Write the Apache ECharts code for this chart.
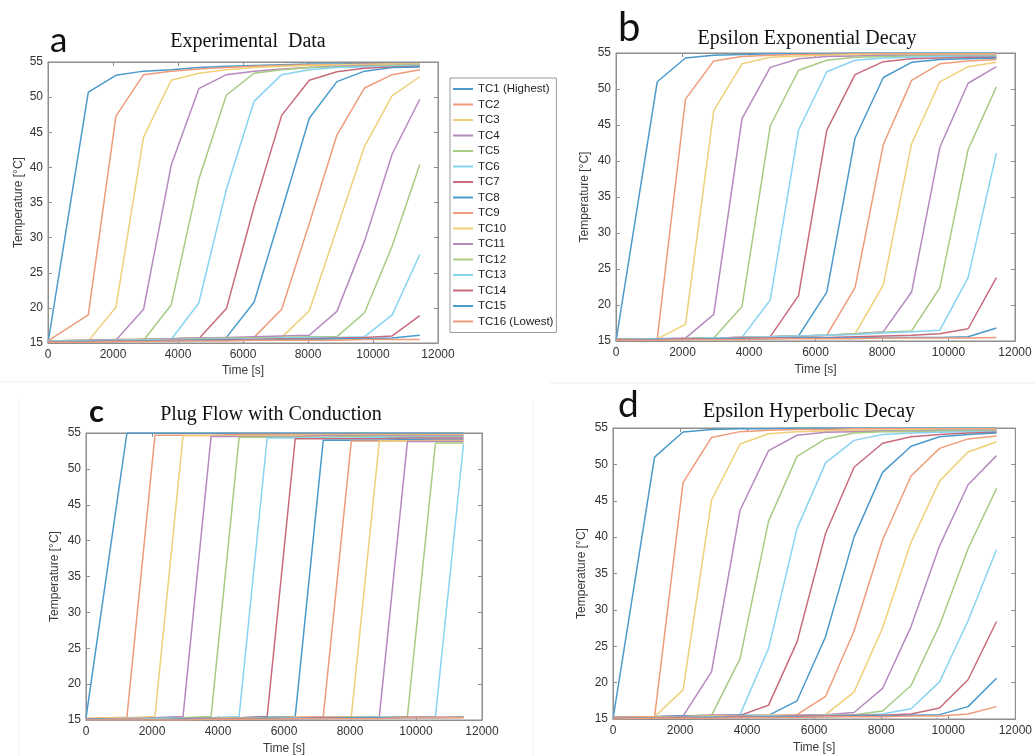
<!DOCTYPE html>
<html>
<head>
<meta charset="utf-8">
<script src="https://cdn.jsdelivr.net/npm/echarts@6/dist/echarts.min.js"></script>
<style>html,body{margin:0;padding:0;background:#fff;}#c{width:1035px;height:756px;}</style>
</head>
<body>
<div id="c"></div>
<script>
// ---- data ----
const times = [0, 1240, 2090, 2940, 3790, 4640, 5490, 6340, 7190, 8040, 8890, 9740, 10590, 11440];
const seriesNames = ['TC1 (Highest)','TC2','TC3','TC4','TC5','TC6','TC7','TC8','TC9','TC10','TC11','TC12','TC13','TC14','TC15','TC16 (Lowest)'];
const panelTitles = ['Experimental  Data', 'Epsilon Exponential Decay', 'Plug Flow with Conduction', 'Epsilon Hyperbolic Decay'];
const panelLetters = ['a', 'b', 'c', 'd'];
const xTicks = [0, 2000, 4000, 6000, 8000, 10000, 12000];
const yTicks = [15, 20, 25, 30, 35, 40, 45, 50, 55];

// a: Experimental Data
const expData = [
  [15.0, 50.7, 53.1, 53.7, 53.9, 54.2, 54.4, 54.5, 54.6, 54.7, 54.7, 54.8, 54.8, 54.8],
  [15.3, 19.0, 47.3, 53.2, 53.7, 54.0, 54.2, 54.4, 54.5, 54.6, 54.6, 54.7, 54.7, 54.7],
  [15.2, 15.3, 20.1, 44.3, 52.4, 53.4, 53.9, 54.2, 54.4, 54.5, 54.6, 54.6, 54.7, 54.7],
  [15.2, 15.3, 15.4, 19.8, 40.3, 51.2, 53.2, 53.7, 54.0, 54.2, 54.4, 54.5, 54.5, 54.6],
  [15.2, 15.3, 15.4, 15.4, 20.4, 38.3, 50.3, 53.4, 53.9, 54.2, 54.3, 54.4, 54.5, 54.6],
  [15.2, 15.3, 15.4, 15.5, 15.5, 20.7, 36.9, 49.4, 53.2, 53.9, 54.2, 54.3, 54.4, 54.5],
  [15.3, 15.3, 15.4, 15.5, 15.5, 15.6, 19.9, 34.4, 47.4, 52.4, 53.6, 54.1, 54.3, 54.4],
  [15.3, 15.4, 15.4, 15.5, 15.6, 15.7, 15.8, 20.8, 33.8, 47.0, 52.2, 53.7, 54.2, 54.3],
  [15.3, 15.4, 15.4, 15.5, 15.6, 15.7, 15.7, 15.8, 19.8, 32.0, 44.6, 51.3, 53.2, 53.9],
  [15.3, 15.4, 15.5, 15.5, 15.6, 15.7, 15.7, 15.8, 15.8, 19.6, 31.3, 43.0, 50.2, 52.9],
  [15.3, 15.4, 15.5, 15.5, 15.6, 15.7, 15.8, 15.9, 16.0, 16.1, 19.5, 29.5, 41.9, 49.7],
  [15.2, 15.3, 15.4, 15.5, 15.5, 15.6, 15.7, 15.7, 15.8, 15.9, 15.9, 19.3, 28.8, 40.4],
  [15.2, 15.3, 15.4, 15.4, 15.5, 15.5, 15.6, 15.6, 15.7, 15.8, 15.8, 15.9, 19.0, 27.6],
  [15.1, 15.2, 15.3, 15.3, 15.4, 15.4, 15.5, 15.5, 15.6, 15.6, 15.7, 15.8, 16.0, 18.9],
  [15.1, 15.2, 15.2, 15.3, 15.3, 15.4, 15.4, 15.4, 15.5, 15.5, 15.6, 15.6, 15.7, 16.1],
  [15.1, 15.1, 15.2, 15.2, 15.3, 15.3, 15.3, 15.4, 15.4, 15.4, 15.4, 15.5, 15.5, 15.5]
];

// b: Epsilon Exponential Decay
const expoData = [
  [15.0, 51.0, 54.3, 54.7, 54.8, 54.9, 54.9, 54.9, 55.0, 55.0, 55.0, 55.0, 55.0, 55.0],
  [15.3, 15.3, 48.6, 53.9, 54.5, 54.7, 54.8, 54.8, 54.9, 54.9, 54.9, 54.9, 54.9, 54.9],
  [15.2, 15.3, 17.3, 47.0, 53.5, 54.4, 54.6, 54.7, 54.8, 54.8, 54.8, 54.8, 54.8, 54.8],
  [15.2, 15.3, 15.4, 18.7, 45.9, 53.0, 54.2, 54.5, 54.6, 54.7, 54.7, 54.7, 54.7, 54.7],
  [15.2, 15.3, 15.3, 15.4, 19.8, 44.9, 52.6, 54.0, 54.4, 54.5, 54.6, 54.6, 54.6, 54.6],
  [15.2, 15.3, 15.3, 15.4, 15.5, 20.7, 44.3, 52.4, 54.0, 54.3, 54.4, 54.5, 54.5, 54.5],
  [15.2, 15.3, 15.3, 15.4, 15.5, 15.6, 21.3, 44.3, 52.0, 53.8, 54.2, 54.3, 54.4, 54.4],
  [15.2, 15.3, 15.3, 15.4, 15.5, 15.6, 15.7, 21.8, 43.2, 51.6, 53.7, 54.1, 54.2, 54.3],
  [15.2, 15.3, 15.3, 15.4, 15.5, 15.6, 15.7, 15.8, 22.4, 42.3, 51.2, 53.5, 53.9, 54.1],
  [15.2, 15.3, 15.3, 15.4, 15.5, 15.6, 15.7, 15.8, 16.0, 22.8, 42.4, 51.0, 53.1, 53.7],
  [15.2, 15.3, 15.3, 15.4, 15.5, 15.6, 15.7, 15.8, 16.0, 16.3, 21.8, 41.9, 50.8, 53.1],
  [15.2, 15.3, 15.3, 15.4, 15.5, 15.6, 15.7, 15.8, 16.0, 16.2, 16.4, 22.4, 41.6, 50.3],
  [15.2, 15.3, 15.3, 15.4, 15.5, 15.6, 15.7, 15.8, 15.9, 16.1, 16.3, 16.5, 23.8, 41.1],
  [15.2, 15.2, 15.3, 15.3, 15.4, 15.4, 15.5, 15.5, 15.6, 15.7, 15.8, 16.0, 16.7, 23.8],
  [15.1, 15.2, 15.2, 15.3, 15.3, 15.3, 15.4, 15.4, 15.4, 15.5, 15.5, 15.5, 15.6, 16.8],
  [15.1, 15.1, 15.2, 15.2, 15.2, 15.3, 15.3, 15.3, 15.3, 15.4, 15.4, 15.4, 15.4, 15.5]
];

// c: Plug Flow with Conduction
const plugData = [
  [15.3, 55.0, 55.0, 55.0, 55.0, 55.0, 55.0, 55.0, 55.0, 55.0, 55.0, 55.0, 55.0, 55.0],
  [15.2, 15.4, 54.7, 54.7, 54.7, 54.8, 54.8, 54.8, 54.8, 54.8, 54.8, 54.8, 54.8, 54.8],
  [15.2, 15.3, 15.5, 54.6, 54.6, 54.6, 54.6, 54.7, 54.7, 54.7, 54.7, 54.7, 54.7, 54.7],
  [15.1, 15.2, 15.3, 15.5, 54.5, 54.5, 54.5, 54.5, 54.6, 54.6, 54.6, 54.6, 54.6, 54.6],
  [15.1, 15.2, 15.2, 15.3, 15.5, 54.4, 54.4, 54.4, 54.4, 54.5, 54.5, 54.5, 54.5, 54.5],
  [15.1, 15.2, 15.2, 15.3, 15.3, 15.5, 54.3, 54.3, 54.3, 54.3, 54.4, 54.4, 54.4, 54.4],
  [15.1, 15.1, 15.2, 15.2, 15.3, 15.3, 15.5, 54.2, 54.2, 54.2, 54.2, 54.3, 54.3, 54.3],
  [15.1, 15.1, 15.2, 15.2, 15.3, 15.3, 15.4, 15.5, 54.0, 54.0, 54.0, 54.1, 54.1, 54.1],
  [15.0, 15.1, 15.1, 15.2, 15.2, 15.3, 15.3, 15.4, 15.5, 53.9, 53.9, 53.9, 54.0, 54.0],
  [15.0, 15.1, 15.1, 15.2, 15.2, 15.3, 15.3, 15.4, 15.4, 15.5, 53.9, 53.9, 53.9, 53.9],
  [15.0, 15.1, 15.1, 15.1, 15.2, 15.2, 15.3, 15.3, 15.4, 15.4, 15.5, 53.8, 53.8, 53.8],
  [15.0, 15.0, 15.1, 15.1, 15.2, 15.2, 15.3, 15.3, 15.3, 15.4, 15.4, 15.5, 53.6, 53.6],
  [15.0, 15.0, 15.1, 15.1, 15.1, 15.2, 15.2, 15.3, 15.3, 15.3, 15.4, 15.4, 15.5, 53.5],
  [15.0, 15.0, 15.0, 15.1, 15.1, 15.2, 15.2, 15.2, 15.3, 15.3, 15.3, 15.4, 15.4, 15.4],
  [15.0, 15.0, 15.0, 15.1, 15.1, 15.1, 15.2, 15.2, 15.2, 15.3, 15.3, 15.3, 15.3, 15.4],
  [15.0, 15.0, 15.0, 15.0, 15.1, 15.1, 15.1, 15.2, 15.2, 15.2, 15.2, 15.3, 15.3, 15.3]
];

// d: Epsilon Hyperbolic Decay
const hypData = [
  [15.0, 51.0, 54.45, 54.8, 54.9, 54.9, 55.0, 55.0, 55.0, 55.0, 55.0, 55.0, 55.0, 55.0],
  [15.3, 15.3, 47.5, 53.7, 54.5, 54.7, 54.8, 54.8, 54.9, 54.9, 54.9, 54.9, 54.9, 54.9],
  [15.2, 15.3, 19.0, 45.1, 52.8, 54.2, 54.5, 54.6, 54.7, 54.7, 54.8, 54.8, 54.8, 54.8],
  [15.2, 15.3, 15.4, 21.5, 43.7, 51.9, 54.0, 54.4, 54.5, 54.6, 54.6, 54.7, 54.7, 54.7],
  [15.2, 15.3, 15.4, 15.5, 23.3, 42.2, 51.1, 53.5, 54.3, 54.5, 54.5, 54.6, 54.6, 54.6],
  [15.2, 15.3, 15.4, 15.5, 15.6, 24.7, 41.2, 50.2, 53.3, 54.1, 54.3, 54.4, 54.5, 54.5],
  [15.2, 15.3, 15.4, 15.5, 15.5, 16.9, 25.6, 40.5, 49.6, 52.9, 53.8, 54.1, 54.3, 54.4],
  [15.2, 15.3, 15.4, 15.4, 15.5, 15.5, 17.5, 26.3, 40.0, 48.9, 52.5, 53.8, 54.1, 54.3],
  [15.2, 15.3, 15.3, 15.4, 15.4, 15.5, 15.6, 18.1, 27.1, 39.6, 48.4, 52.2, 53.5, 53.9],
  [15.2, 15.2, 15.3, 15.4, 15.4, 15.5, 15.5, 15.6, 18.7, 27.5, 39.3, 47.7, 51.7, 53.1],
  [15.1, 15.2, 15.3, 15.3, 15.4, 15.4, 15.5, 15.6, 15.9, 19.2, 27.7, 38.8, 47.2, 51.2],
  [15.1, 15.2, 15.2, 15.3, 15.3, 15.4, 15.4, 15.5, 15.6, 16.1, 19.6, 27.9, 38.4, 46.7],
  [15.1, 15.1, 15.2, 15.3, 15.3, 15.4, 15.4, 15.5, 15.5, 15.7, 16.4, 20.1, 28.5, 38.3],
  [15.1, 15.1, 15.2, 15.2, 15.3, 15.3, 15.4, 15.4, 15.5, 15.5, 15.7, 16.5, 20.4, 28.4],
  [15.0, 15.1, 15.1, 15.2, 15.2, 15.3, 15.3, 15.3, 15.4, 15.4, 15.5, 15.6, 16.7, 20.6],
  [15.0, 15.1, 15.1, 15.1, 15.2, 15.2, 15.2, 15.3, 15.3, 15.3, 15.4, 15.4, 15.7, 16.7]
];

const panels = [expData, expoData, plugData, hypData];

// ---- styling / layout ----
const palette = ['#4a9acb', '#ee9c7b', '#efcf78', '#b58abf', '#a7cb83', '#88d3f2', '#c96b7d'];
const grids = [
  {left: 48, top: 62, width: 390, height: 281},
  {left: 616, top: 53, width: 399, height: 288},
  {left: 86, top: 433, width: 396, height: 287},
  {left: 613, top: 428, width: 403, height: 291}
];
const yNameGap = [23, 25, 25, 25];
const xNameGap = [22, 23, 23, 23];
const titlePos = [[248, 42], [807, 39], [271, 415], [809, 412]];
const letterPos = [[50, 41, 35, 'normal'], [618, 28, 40, 'normal'], [89, 412, 31, 'bold'], [618, 405, 37, 'normal']];

const axisGray = '#8e8e8e';
const labelFont = 'Liberation Sans';
const plainNum = v => String(v);

const xAxes = [], yAxes = [], series = [], gridOpts = [];
function tickCfg() { return {show: true, inside: true, length: 4, lineStyle: {color: axisGray, width: 1}}; }
grids.forEach((g, p) => {
  gridOpts.push(Object.assign({show: true, borderColor: axisGray, borderWidth: 1, backgroundColor: '#fff'}, g));
  xAxes.push({
    type: 'value', gridIndex: p, min: xTicks[0], max: xTicks[xTicks.length - 1], interval: xTicks[1] - xTicks[0],
    position: 'bottom', name: 'Time [s]', nameLocation: 'middle', nameGap: xNameGap[p],
    nameTextStyle: {fontFamily: labelFont, fontSize: 12, color: '#3a3a3a'},
    axisLine: {show: true, onZero: false, lineStyle: {color: axisGray, width: 1}}, splitLine: {show: false},
    axisTick: tickCfg(),
    axisLabel: {fontFamily: labelFont, fontSize: 12, color: '#333', margin: 6, formatter: plainNum}
  });
  yAxes.push({
    type: 'value', gridIndex: p, min: yTicks[0], max: yTicks[yTicks.length - 1], interval: yTicks[1] - yTicks[0],
    position: 'left', name: 'Temperature [°C]', nameLocation: 'middle', nameGap: yNameGap[p],
    nameTextStyle: {fontFamily: labelFont, fontSize: 12, color: '#3a3a3a'},
    axisLine: {show: true, onZero: false, lineStyle: {color: axisGray, width: 1}}, splitLine: {show: false},
    axisTick: tickCfg(),
    axisLabel: {fontFamily: labelFont, fontSize: 12, color: '#333', margin: 5, formatter: plainNum}
  });
});
grids.forEach((g, p) => {
  xAxes.push({
    type: 'value', gridIndex: p, min: xTicks[0], max: xTicks[xTicks.length - 1], interval: xTicks[1] - xTicks[0],
    position: 'top', axisLine: {show: true, onZero: false, lineStyle: {color: axisGray, width: 1}},
    splitLine: {show: false}, axisLabel: {show: false},
    axisTick: tickCfg()
  });
  yAxes.push({
    type: 'value', gridIndex: p, min: yTicks[0], max: yTicks[yTicks.length - 1], interval: yTicks[1] - yTicks[0],
    position: 'right', axisLine: {show: true, onZero: false, lineStyle: {color: axisGray, width: 1}},
    splitLine: {show: false}, axisLabel: {show: false},
    axisTick: tickCfg()
  });
});

panels.forEach((data, p) => {
  data.forEach((vals, k) => {
    series.push({
      type: 'line', name: seriesNames[k], xAxisIndex: p, yAxisIndex: p,
      data: times.map((t, i) => [t, vals[i]]),
      showSymbol: false, symbol: 'none', silent: true,
      color: palette[k % palette.length],
      lineStyle: {width: 1.5, color: palette[k % palette.length]}
    });
  });
});

const graphics = [];
panelTitles.forEach((t, p) => {
  graphics.push({type: 'text', x: titlePos[p][0], y: titlePos[p][1],
    style: {text: t, font: '20px "Liberation Serif", "Times New Roman", serif', fill: '#111', align: 'center', verticalAlign: 'middle'}});
});
panelLetters.forEach((t, p) => {
  const lp = letterPos[p];
  graphics.push({type: 'text', x: lp[0], y: lp[1],
    style: {text: t, font: lp[3] + ' ' + lp[2] + 'px Lato, "Open Sans", sans-serif', fill: '#111', align: 'left', verticalAlign: 'middle'}});
});
// faint borders of the composed figure
graphics.push({type: 'line', shape: {x1: 0, y1: 382, x2: 250, y2: 382}, style: {stroke: '#ededed', lineWidth: 1}});
graphics.push({type: 'line', shape: {x1: 550, y1: 383, x2: 1035, y2: 383}, style: {stroke: '#ededed', lineWidth: 1}});
graphics.push({type: 'line', shape: {x1: 19, y1: 398, x2: 19, y2: 756}, style: {stroke: '#efefef', lineWidth: 1}});
graphics.push({type: 'line', shape: {x1: 533, y1: 400, x2: 533, y2: 756}, style: {stroke: '#efefef', lineWidth: 1}});

const chart = echarts.init(document.getElementById('c'), null, {renderer: 'canvas'});
chart.setOption({
  animation: false,
  backgroundColor: '#fff',
  grid: gridOpts,
  xAxis: xAxes,
  yAxis: yAxes,
  legend: {
    data: seriesNames.map(n => ({name: n, icon: 'rect'})),
    orient: 'vertical', left: 450, top: 78,
    itemWidth: 20, itemHeight: 2, itemGap: 1.5,
    padding: [4, 3, 4, 3],
    borderColor: '#9a9a9a', borderWidth: 1, borderRadius: 0,
    backgroundColor: '#fff',
    selectedMode: false,
    textStyle: {fontFamily: labelFont, fontSize: 11.5, color: '#222', lineHeight: 14, padding: [0, 0, 0, 0]}
  },
  graphic: graphics,
  series: series
});
</script>
</body>
</html>
